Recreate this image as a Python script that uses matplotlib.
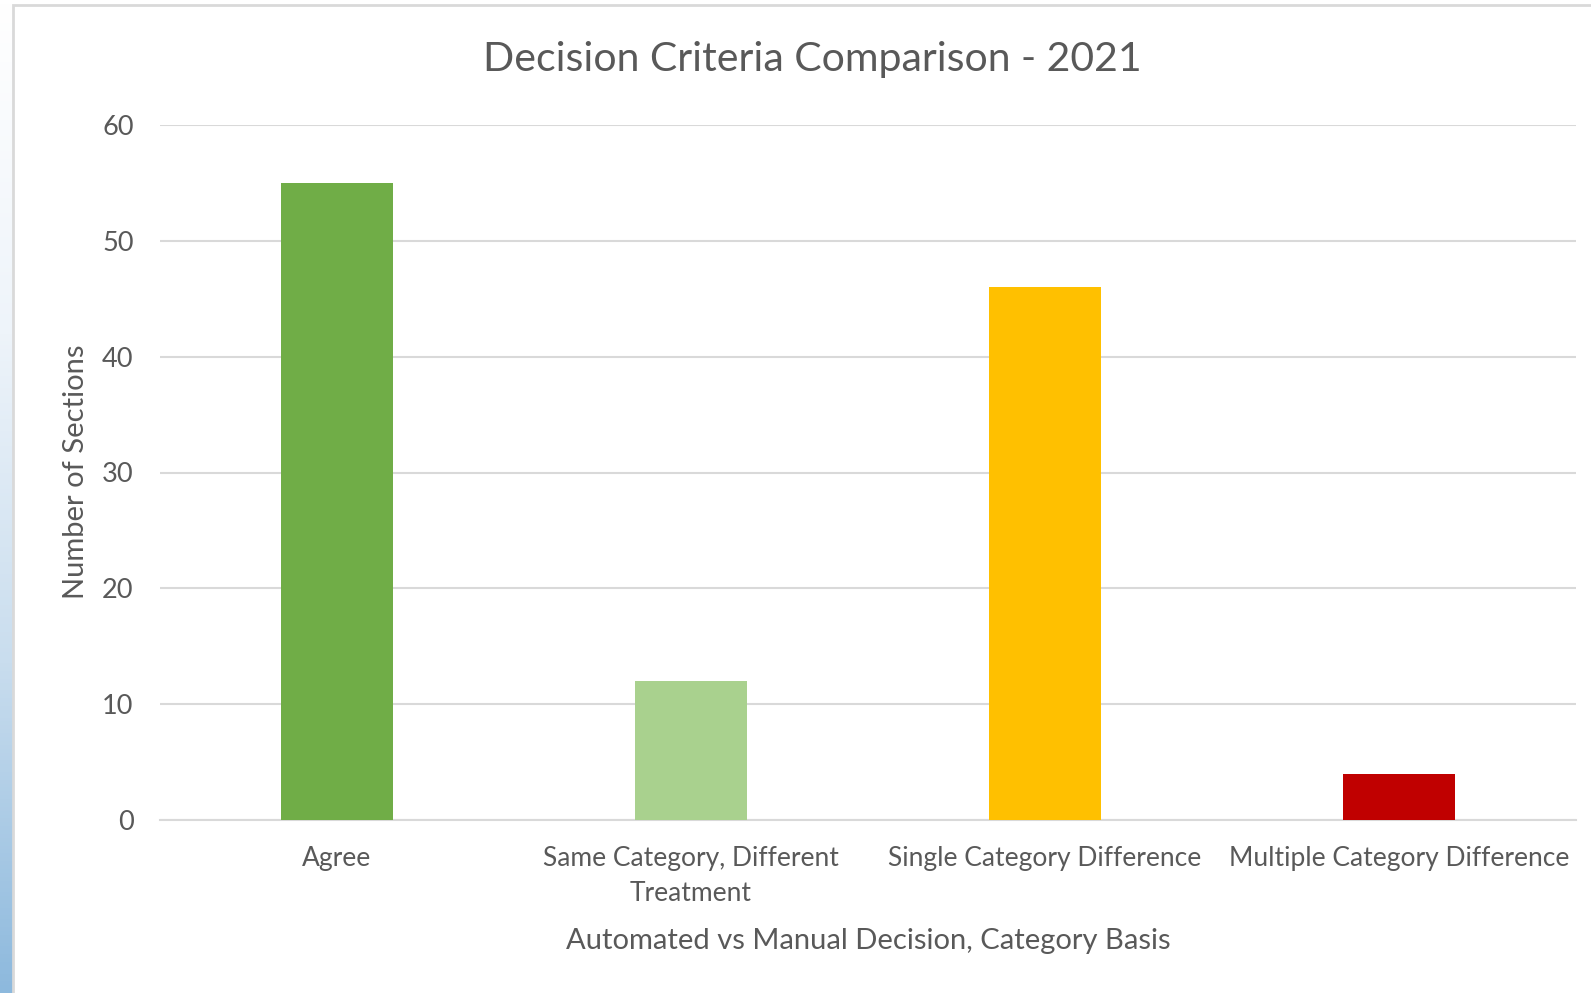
import matplotlib
matplotlib.use("Agg")
import matplotlib.pyplot as plt
import numpy as np
from matplotlib.patches import Rectangle
from matplotlib.colors import LinearSegmentedColormap

categories = ["Agree", "Same Category, Different\nTreatment", "Single Category Difference", "Multiple Category Difference"]
values = [55, 12, 46, 4]
colors = ["#70AD47", "#A9D18E", "#FFC000", "#C00000"]
yticks = [0, 10, 20, 30, 40, 50, 60]

W, H = 1591, 993
plt.rcParams['font.family'] = ['Lato', 'DejaVu Sans']
txt = "#595959"
grid = "#D9D9D9"

fig = plt.figure(figsize=(W/100, H/100), dpi=100)

# left background strip (slide background)
bg = fig.add_axes([0, 0, 13/W, 1])
grad = np.linspace(0, 1, 256)[:, None]
cm = LinearSegmentedColormap.from_list("b", ["#FFFFFF", "#EEF4FA", "#C9DDEE", "#8DB9DD"])
bg.imshow(grad, aspect="auto", cmap=cm, extent=[0, 1, 0, 1], origin="upper")
bg.axis("off")

# chart border
fig.patches.append(Rectangle((13/W, -0.01), 1.1, 1 - 5/H + 0.01, transform=fig.transFigure,
                             fill=False, edgecolor=grid, linewidth=2))

ax = fig.add_axes([160/W, 1 - 820/H, (1576-160)/W, (820-125)/H])
x = np.arange(len(categories))
ax.bar(x, values, width=0.316, color=colors, zorder=3)
ax.set_xlim(-0.5, len(categories) - 0.5)
ax.set_ylim(0, 60)
ax.set_yticks(yticks)
ax.set_yticklabels([str(t) for t in yticks], fontsize=19.5, color=txt)
ax.set_xticks(x)
ax.set_xticklabels(categories, fontsize=19, color=txt, linespacing=1.5)
ax.tick_params(axis="both", length=0)
ax.tick_params(axis="y", pad=19)
ax.tick_params(axis="x", pad=19)
ax.grid(axis="y", color=grid, linewidth=1.5, zorder=0)
for s in ["top", "right", "left"]:
    ax.spines[s].set_visible(False)
ax.spines["bottom"].set_color(grid)
ax.spines["bottom"].set_linewidth(1.5)

fig.text(868/W, 1 - 941/H, "Automated vs Manual Decision, Category Basis", fontsize=21,
         color=txt, ha="center", va="center")
fig.text(76/W, 1 - 472/H, "Number of Sections", fontsize=21, color=txt,
         ha="center", va="center", rotation=90)
fig.text(812/W, 1 - 60/H, "Decision Criteria Comparison - 2021", fontsize=29.5,
         color=txt, ha="center", va="center")

fig.savefig("out.png", dpi=100)
